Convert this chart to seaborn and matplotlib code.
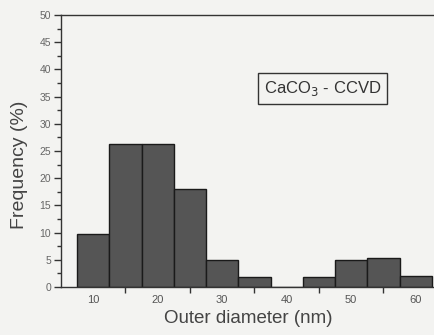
import matplotlib
matplotlib.use("Agg")
import matplotlib.pyplot as plt
import seaborn as sns
import pandas as pd
from matplotlib.ticker import MultipleLocator, FixedLocator

# Data
bin_centers = [10, 15, 20, 25, 30, 35, 40, 45, 50, 55, 60]
frequency = [9.8, 26.3, 26.3, 18.0, 5.0, 1.8, 0.0, 1.8, 5.0, 5.3, 2.0]
bin_width = 5
x_tick_labels = [10, 20, 30, 40, 50, 60]
y_ticks = [0, 5, 10, 15, 20, 25, 30, 35, 40, 45, 50]

sns.set_style("ticks")
plt.rcParams['font.family'] = ['Liberation Sans', 'DejaVu Sans']

bg = "#f3f3f1"
fig = plt.figure(figsize=(4.35, 3.35), dpi=100, facecolor=bg)
ax = fig.add_axes([0.140, 0.143, 0.860, 0.812], facecolor=bg)

df = pd.DataFrame({"diameter": bin_centers, "freq": frequency})
sns.histplot(data=df, x="diameter", weights="freq", binwidth=bin_width,
             binrange=(bin_centers[0] - bin_width / 2, bin_centers[-1] + bin_width / 2),
             ax=ax, color="#555555", edgecolor="#1a1a1a", linewidth=1.0, alpha=1.0)

ax.set_xlim(5, 63)
ax.set_ylim(0, 50)
ax.xaxis.set_major_locator(FixedLocator(x_tick_labels))
ax.xaxis.set_minor_locator(FixedLocator([15, 25, 35, 45, 55]))
ax.yaxis.set_major_locator(FixedLocator(y_ticks))
ax.yaxis.set_minor_locator(MultipleLocator(2.5))

ax.tick_params(axis='x', which='major', length=0, labelsize=8, labelcolor="#555555", pad=6)
ax.tick_params(axis='x', which='minor', length=4, width=1, color="#333333", direction='out')
ax.tick_params(axis='y', which='major', length=5, width=1, color="#333333", direction='out',
               labelsize=7.5, labelcolor="#666666", pad=2)
ax.tick_params(axis='y', which='minor', length=3, width=1, color="#333333", direction='out')

for s in ['left', 'bottom', 'top']:
    ax.spines[s].set_visible(True)
    ax.spines[s].set_color("#333333")
    ax.spines[s].set_linewidth(1.0)
ax.spines['right'].set_visible(False)

ax.set_xlabel("Outer diameter (nm)", fontsize=13.5, color="#444444", labelpad=3)
ax.set_ylabel("Frequency (%)", fontsize=14, color="#444444")
ax.yaxis.set_label_coords(-0.088, 0.45)

ax.text(0.70, 0.73, r"CaCO$_3$ - CCVD", transform=ax.transAxes, ha='center', va='center',
        fontsize=12, color="#333333",
        bbox=dict(boxstyle='square,pad=0.35', facecolor=bg, edgecolor="#333333", linewidth=1.0))

fig.savefig("out.png", dpi=100, facecolor=bg)
